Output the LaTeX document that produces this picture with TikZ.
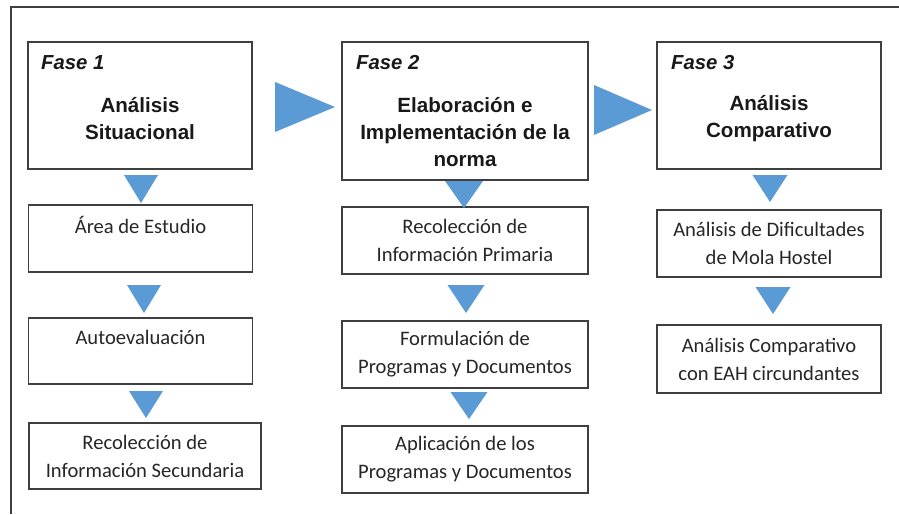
\documentclass[tikz,border=0pt]{standalone}
\usepackage{fontspec}
\setmainfont{Carlito}
\newfontfamily\arialfont{Liberation Sans}
\definecolor{triblue}{HTML}{5B9BD5}
\definecolor{linegray}{HTML}{3F3F3F}
\tikzset{
  stepbox/.style={draw=linegray, line width=1.2pt, inner sep=0pt, align=center,
    text=black!85, font=\fontsize{20.6}{28}\selectfont},
  fasebox/.style={draw=linegray, line width=1.2pt, inner sep=0pt},
  fasetitle/.style={align=center, inner sep=0pt, text=black!90,
    font=\arialfont\bfseries\fontsize{20.6}{27}\selectfont},
  fasetag/.style={anchor=west, inner sep=0pt, text=black!90,
    font=\arialfont\bfseries\itshape\fontsize{20.3}{24}\selectfont},
  tri/.style={fill=triblue}
}
% down triangle: tip x, tip y, half width, height
\newcommand\downtri[4]{\fill[tri] (#1,#2) -- ++(-#3,-#4) -- ++(2*#3,0) -- cycle;}
\begin{document}
\begin{tikzpicture}[x=1pt,y=-1pt]
  \useasboundingbox (0,0) rectangle (899,514);
  \draw[linegray, line width=1.3pt] (11,514) -- (11,7) -- (899,7);

  % phases
  \node[fasebox, minimum width=224pt, minimum height=127pt] (f1) at (140,105.5) {};
  \node[fasetag] (t1) at (41,63) {Fase 1};
  \node[fasetitle] (n1) at (140,119) {Análisis\\Situacional};

  \node[fasebox, minimum width=246pt, minimum height=138pt] (f2) at (465,111) {};
  \node[fasetag] (t2) at (356,63) {Fase 2};
  \node[fasetitle] (n2) at (465,132) {Elaboración e\\Implementación de la\\norma};

  \node[fasebox, minimum width=224pt, minimum height=127pt] (f3) at (769,105.5) {};
  \node[fasetag] (t3) at (671,63) {Fase 3};
  \node[fasetitle] (n3) at (769,119) {Análisis\\Comparativo};

  % steps
  \node[stepbox, minimum width=224pt, minimum height=67pt] (a1) at (140.5,238.5) {Área de Estudio\\\mbox{}};
  \node[stepbox, minimum width=224pt, minimum height=66pt] (a2) at (140.5,351) {Autoevaluación\\\mbox{}};
  \node[stepbox, minimum width=232pt, minimum height=66pt] (a3) at (145,456) {Recolección de\\Información Secundaria};

  \node[stepbox, minimum width=246pt, minimum height=67pt] (b1) at (465,240.5) {Recolección de\\Información Primaria};
  \node[stepbox, minimum width=246pt, minimum height=67pt] (b2) at (465,354.5) {Formulación de\\Programas y Documentos};
  \node[stepbox, minimum width=246pt, minimum height=67pt] (b3) at (465,459.5) {Aplicación de los\\Programas y Documentos};

  \node[stepbox, minimum width=224pt, minimum height=67pt] (c1) at (769,243.5) {Análisis de Dificultades\\de Mola Hostel};
  \node[stepbox, minimum width=224pt, minimum height=68pt] (c2) at (769,359) {Análisis Comparativo\\con EAH circundantes};

  % arrows
  \downtri{141}{203}{17}{28}
  \downtri{144}{313}{17}{28}
  \downtri{146}{418}{17}{27}
  \downtri{464}{208}{19}{27}
  \downtri{466}{313}{18.5}{28}
  \downtri{469}{419}{18.5}{27}
  \downtri{770}{202}{17.5}{27}
  \downtri{773}{314}{17.5}{27}
  \fill[tri] (275,82) -- (335,107) -- (275,132) -- cycle;
  \fill[tri] (594,85) -- (652,110) -- (594,135) -- cycle;
\end{tikzpicture}
\end{document}
